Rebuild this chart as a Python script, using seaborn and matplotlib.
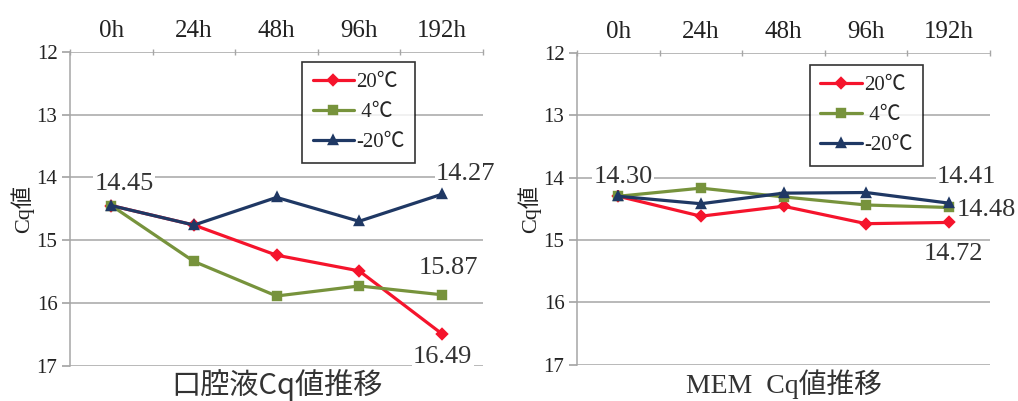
import matplotlib
matplotlib.use("Agg")
import matplotlib.pyplot as plt
import seaborn as sns
import pandas as pd
import numpy as np

# Time points (top axis)
times = ["0h", "24h", "48h", "96h", "192h"]
temps = ["20℃", " 4℃", "-20℃"]

# Oral fluid Cq values
oral_20 = [14.45, 14.76, 15.24, 15.49, 16.49]
oral_4 = [14.45, 15.34, 15.89, 15.73, 15.87]
oral_m20 = [14.45, 14.76, 14.32, 14.70, 14.27]

# MEM Cq values
mem_20 = [14.30, 14.62, 14.46, 14.74, 14.72]
mem_4 = [14.30, 14.17, 14.31, 14.44, 14.48]
mem_m20 = [14.30, 14.42, 14.25, 14.24, 14.41]

titles = ["口腔液Cq値推移", "MEM  Cq値推移"]

colors = ["#f5142c", "#77933c", "#1f3864"]
markers = ["D", "s", "^"]

sns.set_theme(style="white")
plt.rcParams["font.family"] = ["Liberation Serif", "Noto Sans CJK JP", "DejaVu Sans"]


def make_frame(s20, s4, sm20):
    rows = []
    for label, vals in zip(temps, [s20, s4, sm20]):
        for t, v in zip(times, vals):
            rows.append({"time": t, "cq": v, "temp": label})
    return pd.DataFrame(rows)


fig = plt.figure(figsize=(10.18, 4.01), dpi=100)
ax_l = fig.add_axes([0.0688, 0.088, 0.4057, 0.783])
ax_r = fig.add_axes([0.5668, 0.091, 0.4057, 0.777])

panels = [
    (ax_l, make_frame(oral_20, oral_4, oral_m20),
     [(oral_20[0], 0, (13, 22)), (oral_m20[4], 4, (24, 20)),
      (oral_4[4], 4, (7, 27)), (oral_20[4], 4, (1, -23))],
     (0.562, 0.967), 21, ["Noto Sans CJK JP", "DejaVu Sans"]),
    (ax_r, make_frame(mem_20, mem_4, mem_m20),
     [(mem_20[0], 0, (5, 19)), (mem_m20[4], 4, (18, 26)),
      (mem_4[4], 4, (38, -3)), (mem_20[4], 4, (5, -32))],
     (0.564, 0.961), 20, ["Liberation Serif", "Noto Sans CJK JP"]),
]

for (ax, df, notes, leg_anchor, tsize, tfam), title in zip(panels, titles):
    sns.pointplot(data=df, x="time", y="cq", hue="temp", order=times,
                  hue_order=temps, palette=colors, markers=markers,
                  linestyles="-", errorbar=None, ax=ax,
                  markersize=5.5, linewidth=2.3)
    ax.set_ylim(17, 12)
    ax.set_xlim(-0.5, 4.5)
    ax.set_yticks([12, 13, 14, 15, 16, 17])
    ax.yaxis.grid(True, color="#a6a6a6", linewidth=1.1)
    ax.set_axisbelow(True)
    ax.xaxis.tick_top()
    ax.set_xticks(range(len(times)))
    ax.set_xticklabels(times, fontsize=18, color="#222222")
    ax.set_xticks(np.arange(-0.5, 5, 1), minor=True)
    ax.tick_params(axis="x", which="major", length=0, pad=7)
    ax.tick_params(axis="x", which="minor", length=4, color="#a6a6a6",
                   direction="inout", top=True)
    ax.tick_params(axis="y", labelsize=15, length=6, color="#a6a6a6",
                   direction="out", left=True, labelcolor="#222222", pad=3)
    for side in ["top", "right", "bottom"]:
        ax.spines[side].set_visible(False)
    ax.spines["left"].set_color("#a6a6a6")
    ax.spines["left"].set_linewidth(1.1)
    ax.set_xlabel("")
    ax.set_ylabel("Cq値", fontsize=16, color="#222222", labelpad=2)
    ax.text(0.5, -0.062, title, transform=ax.transAxes, ha="center",
            va="center", fontsize=tsize, color="#333333", family=tfam)

    for val, xi, off in notes:
        ax.annotate(f"{val:.2f}", xy=(xi, val), xytext=off,
                    textcoords="offset pixels", ha="center", va="center",
                    fontsize=19, color="#333333", zorder=6,
                    bbox=dict(facecolor="white", edgecolor="none", pad=1))

    handles, labels = ax.get_legend_handles_labels()
    leg = ax.legend(handles, labels, loc="upper left", bbox_to_anchor=leg_anchor,
                    borderaxespad=0, frameon=True, fancybox=False,
                    edgecolor="black", fontsize=15, labelspacing=0.5,
                    handlelength=2.0, handletextpad=0.1, borderpad=0.5,
                    title=None)
    leg.get_frame().set_linewidth(1.2)
    leg.set_zorder(7)

fig.savefig("out.png", dpi=100, facecolor="white")
